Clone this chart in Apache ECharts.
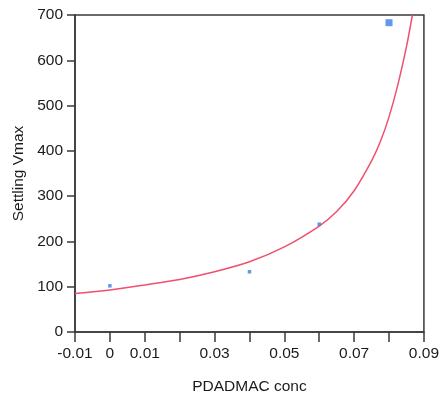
<!DOCTYPE html>
<html>
<head>
<meta charset="utf-8">
<script src="https://cdn.jsdelivr.net/npm/echarts@6/dist/echarts.min.js"></script>
<style>
html,body{margin:0;padding:0;background:#fff;}
#chart{width:442px;height:409px;}
</style>
</head>
<body>
<div id="chart"></div>
<script>
// Observed data points
var pointX = [0, 0.04, 0.06, 0.08];
var pointY = [102, 133, 238, 683];

// Fitted curve
var curveX = [-0.01, 0, 0.01, 0.02, 0.03, 0.04, 0.05, 0.06, 0.065, 0.07, 0.075, 0.0775, 0.08, 0.0825, 0.085, 0.0867];
var curveY = [85, 93, 104, 116, 133, 155, 188, 234, 266, 312, 378, 420, 475, 545, 630, 700];

// Axis tick labels
var xTickLabels = ['-0.01', '0', '0.01', '', '0.03', '', '0.05', '', '0.07', '', '0.09'];
var yTickLabels = ['0', '100', '200', '300', '400', '500', '600', '700'];

var xTitle = 'PDADMAC conc';
var yTitle = 'Settling Vmax';

var font = '"Liberation Sans", Arial, sans-serif';
var axisColor = '#3a3a3a';

var chart = echarts.init(document.getElementById('chart'), null, {renderer: 'canvas'});
chart.setOption({
  animation: false,
  backgroundColor: '#fff',
  grid: {left: 75, right: 13, top: 15, bottom: 77, show: true, borderColor: axisColor, borderWidth: 1.5, backgroundColor: 'transparent'},
  xAxis: {
    type: 'value', min: -0.01, max: 0.09, interval: 0.01,
    name: xTitle, nameLocation: 'middle', nameGap: 47,
    nameTextStyle: {fontFamily: font, fontSize: 15.5, color: '#1a1a1a'},
    axisLine: {show: true, onZero: false, lineStyle: {color: axisColor, width: 1.5}},
    axisTick: {show: true, length: 10, lineStyle: {color: axisColor, width: 1.5}},
    splitLine: {show: false},
    axisLabel: {
      fontFamily: font, fontSize: 15.5, color: '#1a1a1a', margin: 14,
      formatter: function (v) { return xTickLabels[Math.round((v + 0.01) / 0.01)] || ''; }
    }
  },
  yAxis: {
    type: 'value', min: 0, max: 700, interval: 100,
    name: yTitle, nameLocation: 'middle', nameGap: 42, nameRotate: 90,
    nameTextStyle: {fontFamily: font, fontSize: 15.5, color: '#1a1a1a'},
    axisLine: {show: true, onZero: false, lineStyle: {color: axisColor, width: 1.5}},
    axisTick: {show: true, length: 8, lineStyle: {color: axisColor, width: 1.5}},
    splitLine: {show: false},
    axisLabel: {
      fontFamily: font, fontSize: 15.5, color: '#1a1a1a', margin: 12,
      formatter: function (v) { return yTickLabels[Math.round(v / 100)]; }
    }
  },
  series: [
    {
      type: 'line',
      data: curveX.map(function (x, i) { return [x, curveY[i]]; }),
      smooth: 0.3,
      showSymbol: false,
      lineStyle: {color: '#f0506e', width: 1.5},
      z: 2
    },
    {
      type: 'scatter',
      data: pointX.map(function (x, i) { return [x, pointY[i]]; }),
      symbol: 'rect',
      symbolSize: function (v, p) { return p.dataIndex === pointX.length - 1 ? 7 : 3.5; },
      itemStyle: {color: '#3b7de8'},
      z: 3
    }
  ]
});
</script>
</body>
</html>
